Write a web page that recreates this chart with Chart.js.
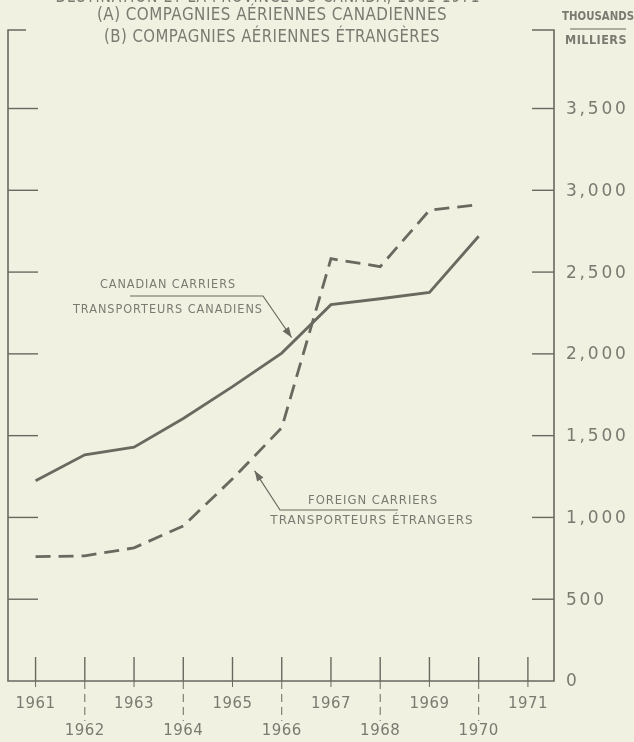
<!DOCTYPE html>
<html>
<head>
<meta charset="utf-8">
<script src="https://cdn.jsdelivr.net/npm/chart.js@4/dist/chart.umd.min.js"></script>
<style>
  html, body { margin: 0; padding: 0; background: #f0f1e1; }
  #wrap { width: 634px; height: 742px; }
</style>
</head>
<body>
<div id="wrap"><canvas id="chart" width="634" height="742"></canvas></div>
<script>
// data (thousands of passengers)
const years = [1961, 1962, 1963, 1964, 1965, 1966, 1967, 1968, 1969, 1970];
const canadianCarriers = [1224, 1383, 1430, 1605, 1800, 2005, 2301, 2337, 2376, 2719];
const foreignCarriers = [760, 765, 814, 948, 1236, 1548, 2582, 2533, 2878, 2913];
const yearTicks = [1961, 1962, 1963, 1964, 1965, 1966, 1967, 1968, 1969, 1970, 1971];
const valueTicks = [0, 500, 1000, 1500, 2000, 2500, 3000, 3500];
const valueLabels = ['0', '500', '1,000', '1,500', '2,000', '2,500', '3,000', '3,500'];

const ink = '#686a60';
const textInk = '#797b71';

function txt(ctx, s, x, y, font, align, spacing, maxW) {
    ctx.save();
    ctx.font = font;
    ctx.fillStyle = textInk;
    ctx.textAlign = align || 'left';
    ctx.textBaseline = 'middle';
    ctx.letterSpacing = (spacing || 0) + 'px';
    if (maxW) ctx.fillText(s, x, y, maxW); else ctx.fillText(s, x, y);
    ctx.restore();
}

function line(ctx, pts, w, dash) {
    ctx.beginPath();
    ctx.setLineDash(dash || []);
    ctx.lineWidth = w || 1.5;
    ctx.moveTo(pts[0][0], pts[0][1]);
    for (let i = 1; i < pts.length; i++) ctx.lineTo(pts[i][0], pts[i][1]);
    ctx.stroke();
    ctx.setLineDash([]);
}

function arrowHead(ctx, fx, fy, tx, ty) {
    const a = Math.atan2(ty - fy, tx - fx);
    const len = 11, wid = 0.35;
    ctx.beginPath();
    ctx.moveTo(tx, ty);
    ctx.lineTo(tx - len * Math.cos(a - wid), ty - len * Math.sin(a - wid));
    ctx.lineTo(tx - len * Math.cos(a + wid), ty - len * Math.sin(a + wid));
    ctx.closePath();
    ctx.fill();
}

const paperPlugin = {
    id: 'paper',
    beforeDraw(chart) {
        const ctx = chart.ctx;
        ctx.save();
        ctx.fillStyle = '#f0f1e1';
        ctx.fillRect(0, 0, chart.width, chart.height);
        ctx.restore();
    },
    afterDraw(chart) {
        const ctx = chart.ctx;
        const xs = chart.scales.x, ys = chart.scales.y;
        const a = chart.chartArea;
        const L = a.left, R = a.right, T = a.top, B = ys.getPixelForValue(0);
        ctx.save();
        ctx.strokeStyle = ink;
        ctx.fillStyle = ink;

        // frame with bracket corners
        line(ctx, [[L + 18, T], [L, T], [L, B], [R, B], [R, T], [R - 22, T]], 1.6);

        // value ticks inside frame, labels on the right
        valueTicks.forEach((v, i) => {
            const py = ys.getPixelForValue(v);
            if (v > 0) {
                line(ctx, [[L, py], [L + 30, py]], 1.4);
                line(ctx, [[R - 22, py], [R, py]], 1.4);
            }
            txt(ctx, valueLabels[i], R + 12, py + 1, '17px "DejaVu Sans"', 'left', 2.8);
        });

        // year ticks
        yearTicks.forEach(yr => {
            const px = xs.getPixelForValue(yr);
            line(ctx, [[px, B], [px, B - 24]], 1.4);
            if (yr % 2 === 1) {
                line(ctx, [[px, B], [px, B + 6]], 1);
                txt(ctx, String(yr), px, B + 23, '15px "DejaVu Sans"', 'center', 0.5, 40);
            } else {
                line(ctx, [[px, B], [px, B + 40]], 1, [8, 5]);
                txt(ctx, String(yr), px, B + 50, '15px "DejaVu Sans"', 'center', 0.5, 43);
            }
        });

        // titles
        txt(ctx, 'DESTINATION ET LA PROVINCE DU CANADA, 1961-1971', 268, -2, '17px "DejaVu Sans"', 'center', 1, 425);
        txt(ctx, '(A) COMPAGNIES AÉRIENNES CANADIENNES', 272, 16, '17px "DejaVu Sans"', 'center', 0.5, 350);
        txt(ctx, '(B) COMPAGNIES AÉRIENNES ÉTRANGÈRES', 272, 38, '17px "DejaVu Sans"', 'center', 0.5, 336);
        txt(ctx, 'THOUSANDS', 598, 17, 'bold 12px "DejaVu Sans"', 'center', 0, 72);
        line(ctx, [[570, 29], [626, 29]], 1);
        txt(ctx, 'MILLIERS', 596, 41, 'bold 12px "DejaVu Sans"', 'center', 0.5, 62);

        // annotation: canadian carriers
        const cTipX = xs.getPixelForValue(1966.2), cTipY = ys.getPixelForValue(2100);
        txt(ctx, 'CANADIAN CARRIERS', 168, 285, '12px "DejaVu Sans"', 'center', 1, 136);
        txt(ctx, 'TRANSPORTEURS CANADIENS', 168, 310, '12px "DejaVu Sans"', 'center', 1, 190);
        line(ctx, [[130, 296], [263, 296], [cTipX, cTipY]], 1.2);
        arrowHead(ctx, 263, 296, cTipX, cTipY);

        // annotation: foreign carriers
        const fTipX = xs.getPixelForValue(1965.45), fTipY = ys.getPixelForValue(1285);
        txt(ctx, 'FOREIGN CARRIERS', 373, 501, '12px "DejaVu Sans"', 'center', 1, 130);
        txt(ctx, 'TRANSPORTEURS ÉTRANGERS', 372, 521, '12px "DejaVu Sans"', 'center', 1, 205);
        line(ctx, [[398, 510], [280, 510], [fTipX, fTipY]], 1.2);
        arrowHead(ctx, 280, 510, fTipX, fTipY);

        ctx.restore();
    }
};

new Chart(document.getElementById('chart'), {
    type: 'line',
    data: {
        datasets: [
            {
                label: 'Canadian carriers / Transporteurs canadiens',
                data: years.map((y, i) => ({ x: y, y: canadianCarriers[i] })),
                borderColor: ink,
                borderWidth: 2.8,
                pointRadius: 0,
                tension: 0
            },
            {
                label: 'Foreign carriers / Transporteurs étrangers',
                data: years.map((y, i) => ({ x: y, y: foreignCarriers[i] })),
                borderColor: ink,
                borderWidth: 2.8,
                borderDash: [15, 8],
                pointRadius: 0,
                tension: 0
            }
        ]
    },
    options: {
        responsive: false,
        animation: false,
        layout: { padding: { left: 8, right: 80, top: 30, bottom: 61 } },
        plugins: { legend: { display: false }, tooltip: { enabled: false } },
        scales: {
            x: { type: 'linear', display: false, min: 1960.44, max: 1971.53 },
            y: { type: 'linear', display: false, min: 0, max: 3980 }
        }
    },
    plugins: [paperPlugin]
});
</script>
</body>
</html>
